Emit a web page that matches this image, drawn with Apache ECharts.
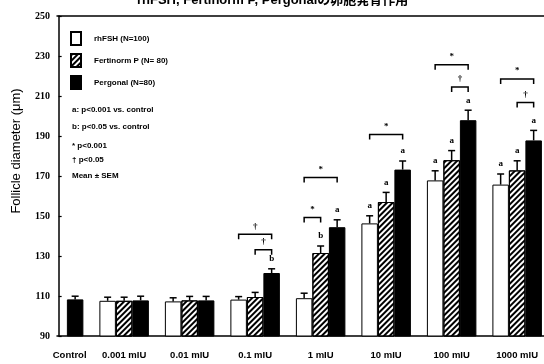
<!DOCTYPE html>
<html>
<head>
<meta charset="utf-8">
<style>html,body{margin:0;padding:0;background:#fff;}#c{width:544px;height:364px;}</style>
<script src="https://cdn.jsdelivr.net/npm/echarts@6/dist/echarts.min.js"></script>
</head>
<body>
<div id="c"></div>
<script>
// ---- data ----
const categories = ['Control', '0.001 mIU', '0.01 mIU', '0.1 mIU', '1 mIU', '10 mIU', '100 mIU', '1000 mIU'];
const yTicks = [90, 110, 130, 150, 170, 190, 210, 230, 250];
const seriesNames = ['rhFSH (N=100)', 'Fertinorm P (N= 80)', 'Pergonal (N=80)'];
const rhFSH      = [null, 107.6, 107.3, 108.2, 108.9, 146.3, 167.8, 165.7];
const rhFSHErr   = [null, 1.8, 1.8, 1.5, 2.5, 3.8, 4.8, 5.3];
const fertinorm    = [null, 107.6, 107.8, 109.5, 131.5, 157.0, 177.9, 172.8];
const fertinormErr = [null, 1.8, 2.0, 2.3, 3.5, 4.8, 4.8, 4.8];
const pergonal    = [108.3, 107.8, 107.8, 121.5, 144.4, 173.2, 197.9, 187.8];
const pergonalErr = [1.6, 2.1, 2.0, 2.1, 3.7, 4.3, 5.0, 5.0];
const rhFSHSig     = ['', '', '', '', '', 'a', 'a', 'a'];
const fertinormSig = ['', '', '', '', 'b', 'a', 'a', 'a'];
const pergonalSig  = ['', '', '', 'b', 'a', 'a', 'a', 'a'];
// brackets: group index, from series, to series, level (μm), mark
const bracketGroup = [3, 3, 4, 4, 5, 6, 6, 7, 7];
const bracketFrom  = [0, 1, 0, 0, 0, 0, 1, 0, 1];
const bracketTo    = [2, 2, 2, 1, 2, 2, 2, 2, 2];
const bracketLevel = [140.9, 133.1, 169.2, 149.3, 190.7, 225.6, 214.5, 218.5, 206.8];
const bracketMark  = ['†', '†', '*', '*', '*', '*', '†', '*', '†'];
const notes = ['a: p<0.001 vs. control', 'b: p<0.05 vs. control', '* p<0.001', '† p<0.05', 'Mean ± SEM'];
const titleText = 'rhFSH, Fertinorm P, Pergonalの卵胞発育作用';
const yName = 'Follicle diameter (μm)';

// ---- styling ----
const BAR_W = 16.5;
const SANS = '"Liberation Sans", Arial, sans-serif';
const SERIF = '"Liberation Serif", "DejaVu Serif", serif';
const GRID_LEFT = 57, GRID_TOP = 16, GRID_BOTTOM = 28;
const X_MIN = -0.025, X_MAX = 7.41;

const values = [rhFSH, fertinorm, pergonal];
const errs = [rhFSHErr, fertinormErr, pergonalErr];
const sigs = [rhFSHSig, fertinormSig, pergonalSig];
const idx = categories.map((c, i) => i);

const barStyles = [
  { color: '#fff', borderColor: '#000', borderWidth: 1 },
  { color: '#fff', borderColor: '#000', borderWidth: 1,
    decal: { symbol: 'rect', color: '#000', dashArrayX: [1, 0], dashArrayY: [1.6, 1.6], rotation: -Math.PI / 4, symbolSize: 1 } },
  { color: '#000', borderColor: '#000', borderWidth: 1 }
];

const series = [];
values.forEach((vals, k) => {
  series.push({
    name: seriesNames[k], type: 'bar', barWidth: BAR_W, barGap: '0%',
    data: idx.map(i => [i, vals[i]]),
    itemStyle: barStyles[k], emphasis: { disabled: true }, silent: true
  });
});
values.forEach((vals, k) => {
  series.push({
    type: 'custom', silent: true, z: 5,
    encode: { x: 0, y: 1 },
    data: idx.map(i => [i, vals[i] == null ? NaN : vals[i], errs[k][i] == null ? 0 : errs[k][i]]),
    renderItem: function (params, api) {
      const x = api.value(0), v = api.value(1), e = api.value(2);
      if (isNaN(v)) return null;
      const top = api.coord([x, v]);
      const cap = api.coord([x, v + e]);
      const cx = top[0] + (k - 1) * BAR_W;
      const ch = [
        { type: 'line', shape: { x1: cx, y1: top[1], x2: cx, y2: cap[1] }, style: { stroke: '#000', lineWidth: 1.5 } },
        { type: 'line', shape: { x1: cx - 3.5, y1: cap[1], x2: cx + 3.5, y2: cap[1] }, style: { stroke: '#000', lineWidth: 1.5 } }
      ];
      const letter = sigs[k][params.dataIndex];
      if (letter) {
        ch.push({ type: 'text', x: cx, y: cap[1] - 10,
          style: { text: letter, textAlign: 'center', textVerticalAlign: 'middle', font: 'bold 9px ' + SERIF, fill: '#000' } });
      }
      return { type: 'group', children: ch };
    }
  });
});
series.push({
  type: 'custom', silent: true, z: 5,
  encode: { x: 0, y: 1 },
  data: bracketGroup.map((g, i) => [g, bracketLevel[i], bracketFrom[i], bracketTo[i]]),
  renderItem: function (params, api) {
    const p = api.coord([api.value(0), api.value(1)]);
    const x1 = p[0] + (api.value(2) - 1) * BAR_W;
    const x2 = p[0] + (api.value(3) - 1) * BAR_W;
    const y = p[1];
    return { type: 'group', children: [
      { type: 'polyline', shape: { points: [[x1, y + 5], [x1, y], [x2, y], [x2, y + 5]] }, style: { stroke: '#000', lineWidth: 1.5, fill: null } },
      { type: 'text', x: (x1 + x2) / 2, y: y - 8,
        style: { text: bracketMark[params.dataIndex], textAlign: 'center', textVerticalAlign: 'middle', font: 'bold 9px ' + SERIF, fill: '#000' } }
    ] };
  }
});

const chart = echarts.init(document.getElementById('c'), null, { renderer: 'canvas' });
chart.setOption({
  backgroundColor: '#fff',
  animation: false,
  title: { text: titleText, left: 137, top: -6, padding: 0,
    textStyle: { fontSize: 13, fontWeight: 'bold', color: '#000', fontFamily: SANS + ', "Noto Sans CJK JP"' } },
  legend: {
    data: seriesNames, orient: 'vertical', left: 70, top: 31, padding: 0,
    icon: 'rect', itemWidth: 10, itemHeight: 13, itemGap: 7, selectedMode: false,
    textStyle: { fontSize: 8, fontWeight: 'bold', color: '#000', fontFamily: SANS, padding: [0, 0, 0, 8] }
  },
  grid: { left: GRID_LEFT, right: 0, top: GRID_TOP, bottom: GRID_BOTTOM, containLabel: false },
  xAxis: [
    { type: 'value', min: X_MIN, max: X_MAX, position: 'bottom',
      axisLine: { show: true, lineStyle: { color: '#000', width: 1.5 } },
      axisTick: { show: false }, splitLine: { show: false },
      axisLabel: { customValues: idx, margin: 14, color: '#000', fontSize: 9.5, fontWeight: 'bold', fontFamily: SANS,
        formatter: v => (v === 0 ? '{c|' + categories[0] + '}' : categories[Math.round(v)]),
        rich: { c: { padding: [0, 0, 0, 22], fontSize: 9.5, fontWeight: 'bold', fontFamily: SANS, color: '#000' } } } },
    { type: 'value', min: X_MIN, max: X_MAX, position: 'top',
      axisLine: { show: true, lineStyle: { color: '#000', width: 1.5 } },
      axisTick: { show: false }, splitLine: { show: false }, axisLabel: { show: false } }
  ],
  yAxis: {
    type: 'value', min: yTicks[0], max: yTicks[yTicks.length - 1], interval: yTicks[1] - yTicks[0],
    name: yName, nameLocation: 'middle', nameGap: 34,
    nameTextStyle: { fontSize: 13, color: '#000', fontFamily: SANS, padding: [0, 0, 0, 50] },
    axisLine: { show: true, lineStyle: { color: '#000', width: 1.5 } },
    axisTick: { show: true, inside: true, length: 3, lineStyle: { color: '#000', width: 1.2 } },
    splitLine: { show: false },
    axisLabel: { margin: 7, color: '#000', fontSize: 10, fontWeight: 'bold', fontFamily: SERIF }
  },
  graphic: notes.map((t, i) => ({
    type: 'text', left: 72, top: [106, 123, 142, 156, 172][i],
    style: { text: t, font: 'bold 8px ' + SANS, fill: '#000' }
  })),
  series: series
});
</script>
</body>
</html>
